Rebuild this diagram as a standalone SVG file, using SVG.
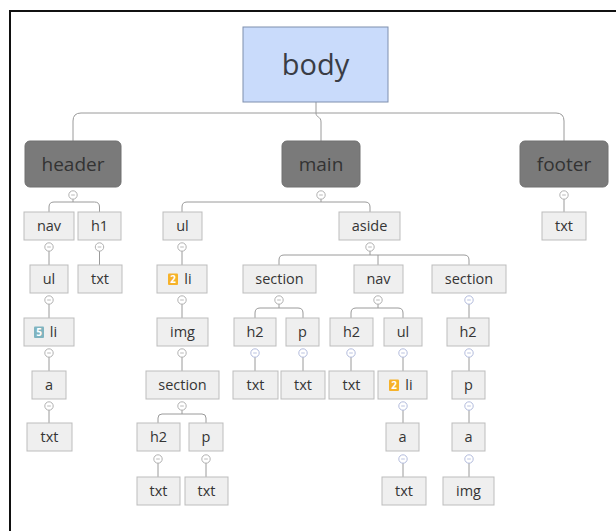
<svg xmlns="http://www.w3.org/2000/svg" width="616" height="531" viewBox="0 0 616 531">
<style>
.bg{fill:#fff}
.frame{stroke:#111;stroke-width:2;fill:none}
.c{fill:none;stroke:#9a9a9a;stroke-width:1}
.n{fill:#efefef;stroke:#bdbdbd;stroke-width:1}
.top{fill:#7a7a7a;stroke:#707070;stroke-width:1}
.body{fill:#c9dbfb;stroke:#7f8fae;stroke-width:1}
text{font-family:"Open Sans","DejaVu Sans",sans-serif;fill:#353535;text-anchor:middle}
.t{font-size:14.5px}
.tt{font-size:19px;fill:#333}
.tb{font-size:29px;fill:#3a3d45}
.col{fill:#fff;stroke:#a8a8a8;stroke-width:0.9}
.colb{fill:#fff;stroke:#aab4d8;stroke-width:0.9}
.m{stroke:#a8a8a8;stroke-width:0.8}
.mb{stroke:#aab4d8;stroke-width:0.8}
.b2{fill:#f6b22a}
.b5{fill:#7fb4c0}
.bt{font-size:10px;font-weight:bold;fill:#fff}
</style>
<defs>
<g id="minus"><circle class="col" r="4.2"/><line class="m" x1="-1.8" y1="0" x2="1.8" y2="0"/></g>
<g id="minusb"><circle class="colb" r="4.2"/><line class="mb" x1="-1.8" y1="0" x2="1.8" y2="0"/></g>
</defs>
<rect class="bg" x="0" y="0" width="616" height="531"/>
<path class="frame" d="M10,531 V11 H616"/>

<g id="connectors">
<path class="c" d="M73,141 V121 Q73,113 81,113 H556 Q564,113 564,121 V141"/>
<path class="c" d="M316,102 V113"/>
<path class="c" d="M316,113 C316,118 321,116 321,122 V141"/>
<path class="c" d="M73,199 V202 M49,212 V207 Q49,202 54,202 H94.5 Q99.5,202 99.5,207 V212"/>
<path class="c" d="M321,199 V202 M182,212 V207 Q182,202 187,202 H365 Q370,202 370,207 V212"/>
<path class="c" d="M564,199 V212"/>
<path class="c" d="M49,251 V265 M99.5,251 V265 M182,251 V265"/>
<path class="c" d="M370,251 V255 M279,265 V260 Q279,255 284,255 H464 Q469,255 469,260 V265 M378,255 V265"/>
<path class="c" d="M49,304 V318 M182,304 V318 M469,304 V318"/>
<path class="c" d="M279,304 V308 M255,318 V313 Q255,308 260,308 H298 Q303,308 303,313 V318"/>
<path class="c" d="M378,304 V308 M351,318 V313 Q351,308 356,308 H398 Q403,308 403,313 V318"/>
<path class="c" d="M49,357 V371 M182,357 V371 M255,357 V371 M303,357 V371 M351,357 V371 M403,357 V371 M469,357 V371"/>
<path class="c" d="M49,410 V423 M403,410 V423 M469,410 V423"/>
<path class="c" d="M182,410 V414 M158,423 V418 Q158,414 162,414 H202 Q206,414 206,418 V423"/>
<path class="c" d="M158,463 V477 M206,463 V477 M403,463 V477 M469,463 V477"/>
</g>

<g id="body"><rect class="body" x="243" y="27" width="145" height="75"/><text class="tb" x="315.5" y="75">body</text></g>
<g id="header"><rect class="top" x="25" y="141" width="96" height="46" rx="5"/><text class="tt" x="73" y="171">header</text><use href="#minus" x="73" y="195"/></g>
<g id="main"><rect class="top" x="282" y="141" width="78" height="46" rx="5"/><text class="tt" x="321" y="171">main</text><use href="#minus" x="321" y="195"/></g>
<g id="footer"><rect class="top" x="520" y="141" width="88" height="46" rx="5"/><text class="tt" x="564" y="171">footer</text><use href="#minus" x="564" y="195"/></g>

<!-- header subtree -->
<g id="h-nav"><rect class="n" x="24" y="212" width="50" height="28"/><text class="t" x="49" y="231">nav</text><use href="#minus" x="49" y="247"/></g>
<g id="h-h1"><rect class="n" x="78" y="212" width="43" height="28"/><text class="t" x="99.5" y="231">h1</text><use href="#minus" x="99.5" y="247"/></g>
<g id="h-ul"><rect class="n" x="30" y="265" width="38" height="28"/><text class="t" x="49" y="284">ul</text><use href="#minus" x="49" y="300"/></g>
<g id="h-txt1"><rect class="n" x="78" y="265" width="44" height="28"/><text class="t" x="100" y="284">txt</text></g>
<g id="h-li"><rect class="n" x="24" y="318" width="50" height="28"/><rect class="b5" x="34" y="326.5" width="10" height="11.5" rx="1"/><text class="bt" x="39" y="336">5</text><text class="t" x="53.5" y="337">li</text><use href="#minus" x="49" y="353"/></g>
<g id="h-a"><rect class="n" x="32" y="371" width="34" height="28"/><text class="t" x="49" y="390">a</text><use href="#minus" x="49" y="406"/></g>
<g id="h-txt2"><rect class="n" x="27" y="423" width="45" height="28"/><text class="t" x="49.5" y="442">txt</text></g>

<!-- main: ul subtree -->
<g id="m-ul"><rect class="n" x="163" y="212" width="39" height="28"/><text class="t" x="182.5" y="231">ul</text><use href="#minus" x="182" y="247"/></g>
<g id="m-li"><rect class="n" x="157" y="265" width="50" height="28"/><rect class="b2" x="168" y="273.5" width="10" height="11.5" rx="1"/><text class="bt" x="173" y="283">2</text><text class="t" x="188" y="284">li</text><use href="#minus" x="182" y="300"/></g>
<g id="m-img"><rect class="n" x="157" y="318" width="51" height="28"/><text class="t" x="182.5" y="337">img</text><use href="#minus" x="182" y="353"/></g>
<g id="m-section"><rect class="n" x="146" y="371" width="73" height="28"/><text class="t" x="182.5" y="390">section</text><use href="#minus" x="182" y="406"/></g>
<g id="m-h2"><rect class="n" x="137" y="423" width="43" height="28"/><text class="t" x="158.5" y="442">h2</text><use href="#minus" x="158" y="459"/></g>
<g id="m-p"><rect class="n" x="189" y="423" width="34" height="28"/><text class="t" x="206" y="442">p</text><use href="#minus" x="206" y="459"/></g>
<g id="m-txt1"><rect class="n" x="137" y="477" width="43" height="28"/><text class="t" x="158.5" y="496">txt</text></g>
<g id="m-txt2"><rect class="n" x="185" y="477" width="43" height="28"/><text class="t" x="206.5" y="496">txt</text></g>

<!-- main: aside subtree -->
<g id="aside"><rect class="n" x="339" y="212" width="61" height="28"/><text class="t" x="369.5" y="231">aside</text><use href="#minus" x="370" y="247"/></g>
<g id="a-section1"><rect class="n" x="243" y="265" width="73" height="28"/><text class="t" x="279.5" y="284">section</text><use href="#minus" x="279" y="300"/></g>
<g id="a-nav"><rect class="n" x="354" y="265" width="49" height="28"/><text class="t" x="378.5" y="284">nav</text><use href="#minus" x="378" y="300"/></g>
<g id="a-section2"><rect class="n" x="432" y="265" width="74" height="28"/><text class="t" x="469" y="284">section</text><use href="#minusb" x="469" y="300"/></g>
<g id="a-h2a"><rect class="n" x="234" y="318" width="42" height="28"/><text class="t" x="255" y="337">h2</text><use href="#minusb" x="255" y="353"/></g>
<g id="a-p"><rect class="n" x="286" y="318" width="33" height="28"/><text class="t" x="302.5" y="337">p</text><use href="#minusb" x="303" y="353"/></g>
<g id="a-h2b"><rect class="n" x="330" y="318" width="43" height="28"/><text class="t" x="351.5" y="337">h2</text><use href="#minusb" x="351" y="353"/></g>
<g id="a-ul"><rect class="n" x="384" y="318" width="38" height="28"/><text class="t" x="403" y="337">ul</text><use href="#minusb" x="403" y="353"/></g>
<g id="a-h2c"><rect class="n" x="447" y="318" width="42" height="28"/><text class="t" x="468" y="337">h2</text><use href="#minusb" x="469" y="353"/></g>
<g id="a-txt1"><rect class="n" x="233" y="371" width="45" height="28"/><text class="t" x="255.5" y="390">txt</text></g>
<g id="a-txt2"><rect class="n" x="281" y="371" width="44" height="28"/><text class="t" x="303" y="390">txt</text></g>
<g id="a-txt3"><rect class="n" x="329" y="371" width="45" height="28"/><text class="t" x="351.5" y="390">txt</text></g>
<g id="a-li"><rect class="n" x="378" y="371" width="49" height="28"/><rect class="b2" x="389" y="379.5" width="10" height="11.5" rx="1"/><text class="bt" x="394" y="389">2</text><text class="t" x="409" y="390">li</text><use href="#minusb" x="403" y="406"/></g>
<g id="a-p2"><rect class="n" x="452" y="371" width="33" height="28"/><text class="t" x="468.5" y="390">p</text><use href="#minusb" x="469" y="406"/></g>
<g id="a-a1"><rect class="n" x="386" y="423" width="33" height="28"/><text class="t" x="402.5" y="442">a</text><use href="#minusb" x="403" y="459"/></g>
<g id="a-a2"><rect class="n" x="452" y="423" width="33" height="28"/><text class="t" x="468.5" y="442">a</text><use href="#minusb" x="469" y="459"/></g>
<g id="a-txt4"><rect class="n" x="382" y="477" width="44" height="28"/><text class="t" x="404" y="496">txt</text></g>
<g id="a-img"><rect class="n" x="443" y="477" width="51" height="28"/><text class="t" x="468.5" y="496">img</text></g>

<!-- footer subtree -->
<g id="f-txt"><rect class="n" x="542" y="212" width="44" height="28"/><text class="t" x="564" y="231">txt</text></g>
</svg>
